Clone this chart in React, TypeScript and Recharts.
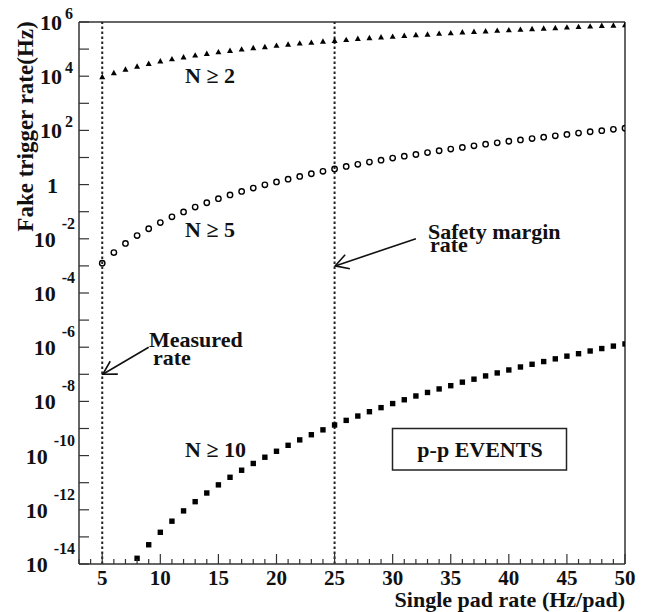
import React from 'react';
import { ScatterChart, Scatter, XAxis, YAxis, ReferenceLine } from 'recharts';

// pad rates (Hz/pad) for the N>=2 and N>=5 curves
const padRates = [
  5, 6, 7, 8, 9, 10, 11, 12, 13, 14, 15, 16, 17, 18, 19, 20, 21, 22, 23, 24, 25, 26, 27,
  28, 29, 30, 31, 32, 33, 34, 35, 36, 37, 38, 39, 40, 41, 42, 43, 44, 45, 46, 47, 48, 49, 50,
];
// log10 of the fake trigger rate (Hz)
const n2LogRate = [
  3.97, 4.12, 4.25, 4.36, 4.46, 4.55, 4.63, 4.7, 4.77, 4.83, 4.89, 4.94, 4.99, 5.04, 5.08,
  5.13, 5.17, 5.21, 5.24, 5.28, 5.31, 5.34, 5.38, 5.41, 5.44, 5.46, 5.49, 5.52, 5.54, 5.57,
  5.59, 5.62, 5.64, 5.66, 5.68, 5.7, 5.72, 5.74, 5.76, 5.78, 5.8, 5.82, 5.84, 5.86, 5.87, 5.89,
];
const n5LogRate = [
  -2.9, -2.51, -2.17, -1.88, -1.63, -1.4, -1.19, -1.01, -0.83, -0.67, -0.52, -0.38, -0.25,
  -0.13, -0.01, 0.1, 0.2, 0.3, 0.4, 0.49, 0.58, 0.67, 0.75, 0.83, 0.9, 0.98, 1.05, 1.11, 1.18,
  1.25, 1.31, 1.37, 1.43, 1.49, 1.54, 1.6, 1.65, 1.7, 1.75, 1.8, 1.85, 1.9, 1.95, 1.99, 2.04, 2.08,
];
// N>=10 only shows up from 8 Hz/pad
const n10PadRates = [
  8, 9, 10, 11, 12, 13, 14, 15, 16, 17, 18, 19, 20, 21, 22, 23, 24, 25, 26, 27, 28, 29, 30,
  31, 32, 33, 34, 35, 36, 37, 38, 39, 40, 41, 42, 43, 44, 45, 46, 47, 48, 49, 50,
];
const n10LogRate = [
  -13.79, -13.29, -12.83, -12.42, -12.04, -11.7, -11.38, -11.08, -10.8, -10.54, -10.29, -10.06,
  -9.84, -9.62, -9.42, -9.23, -9.05, -8.87, -8.7, -8.54, -8.38, -8.23, -8.08, -7.94, -7.8,
  -7.67, -7.54, -7.42, -7.29, -7.18, -7.06, -6.95, -6.84, -6.73, -6.63, -6.53, -6.43, -6.33,
  -6.24, -6.14, -6.05, -5.96, -5.88,
];

const xTicks = [
  3, 4, 5, 6, 7, 8, 9, 10, 11, 12, 13, 14, 15, 16, 17, 18, 19, 20, 21, 22, 23, 24, 25, 26,
  27, 28, 29, 30, 31, 32, 33, 34, 35, 36, 37, 38, 39, 40, 41, 42, 43, 44, 45, 46, 47, 48, 49, 50,
];
const yTicks = [-14, -13, -12, -11, -10, -9, -8, -7, -6, -5, -4, -3, -2, -1, 0, 1, 2, 3, 4, 5, 6];

const measuredRate = 5;
const safetyRate = 25;

const W = 660;
const H = 612;
const PLOT_LEFT = 79;
const PLOT_BOTTOM = 564;
const FONT = '"Liberation Serif", "Times New Roman", serif';
const INK = '#111';
const AXIS = '#333';

const n2Data = padRates.map((x, i) => ({ x, y: n2LogRate[i] }));
const n5Data = padRates.map((x, i) => ({ x, y: n5LogRate[i] }));
const n10Data = n10PadRates.map((x, i) => ({ x, y: n10LogRate[i] }));

const Triangle = ({ cx, cy }: any) => (
  <polygon points={`${cx},${cy - 3.2} ${cx - 3},${cy + 2.2} ${cx + 3},${cy + 2.2}`} fill="#000" />
);
const OpenCircle = ({ cx, cy }: any) => (
  <circle cx={cx} cy={cy} r={2.7} fill="none" stroke="#000" strokeWidth={1.4} />
);
const Square = ({ cx, cy }: any) => <rect x={cx - 2.7} y={cy - 2.7} width={5.4} height={5.4} fill="#000" />;

const XTick = ({ x, payload }: any) => {
  const v = payload.value;
  const major = v % 5 === 0;
  return (
    <g>
      <line x1={x} x2={x} y1={PLOT_BOTTOM} y2={PLOT_BOTTOM - (major ? 10 : 5)} stroke={AXIS} strokeWidth={1.2} />
      {major && (
        <text x={x} y={585} textAnchor="middle" fontFamily={FONT} fontWeight="bold" fontSize={21} fill={INK}>
          {v}
        </text>
      )}
    </g>
  );
};

const YTick = ({ y, payload }: any) => {
  const e = payload.value;
  let label = null;
  if (e === 0) {
    label = (
      <text x={58} y={y + 8} textAnchor="end" fontFamily={FONT} fontWeight="bold" fontSize={22} fill={INK}>
        1
      </text>
    );
  } else if (e % 2 === 0) {
    const neg = e < 0;
    label = (
      <text x={neg ? 75 : 73} y={y + 8} textAnchor="end" fontFamily={FONT} fontWeight="bold" fontSize={22} fill={INK}>
        10
        <tspan dx={neg ? 6 : 3} dy={neg ? -18 : -11} fontSize={16}>
          {e}
        </tspan>
      </text>
    );
  }
  return (
    <g>
      <line x1={PLOT_LEFT} x2={PLOT_LEFT + 10} y1={y} y2={y} stroke={AXIS} strokeWidth={1.2} />
      {label}
    </g>
  );
};

const Arrow = (props: any) => {
  const { x1, y1, x2, y2 } = props;
  const a = Math.atan2(y1 - y2, x1 - x2);
  const len = 15;
  const h1 = [x2 + len * Math.cos(a - 0.52), y2 + len * Math.sin(a - 0.52)];
  const h2 = [x2 + len * Math.cos(a + 0.52), y2 + len * Math.sin(a + 0.52)];
  return (
    <g stroke="#111" strokeWidth={1.6} fill="none">
      <line x1={x1} y1={y1} x2={x2} y2={y2} />
      <polyline points={`${h1[0]},${h1[1]} ${x2},${y2} ${h2[0]},${h2[1]}`} />
    </g>
  );
};

const txt = { fontFamily: FONT, fontWeight: 'bold' as const, fontSize: 22, fill: INK };

export default function App() {
  return (
    <div style={{ position: 'absolute', left: 0, top: 0, width: W, height: H, background: '#fff' }}>
      <ScatterChart width={W} height={H} margin={{ top: 22, right: 35, bottom: 8, left: 9 }}>
        <XAxis
          type="number"
          dataKey="x"
          domain={[3, 50]}
          allowDataOverflow
          ticks={xTicks}
          interval={0}
          height={40}
          tickLine={false}
          tickSize={0}
          axisLine={{ stroke: AXIS, strokeWidth: 1.5 }}
          tick={<XTick />}
        />
        <YAxis
          type="number"
          dataKey="y"
          domain={[-14, 6]}
          allowDataOverflow
          ticks={yTicks}
          interval={0}
          width={70}
          tickLine={false}
          tickSize={0}
          axisLine={{ stroke: AXIS, strokeWidth: 1.5 }}
          tick={<YTick />}
        />
        <ReferenceLine y={6} stroke={AXIS} strokeWidth={1.5} />
        <ReferenceLine x={50} stroke={AXIS} strokeWidth={1.5} />
        <ReferenceLine x={measuredRate} stroke="#222" strokeWidth={2} strokeDasharray="2.5 2.5" />
        <ReferenceLine x={safetyRate} stroke="#222" strokeWidth={2} strokeDasharray="2.5 2.5" />
        <ReferenceLine segment={[{ x: 9, y: -6 }, { x: 5.05, y: -7 }]} shape={Arrow} />
        <ReferenceLine segment={[{ x: 32, y: -2 }, { x: 25.05, y: -3 }]} shape={Arrow} />
        <Scatter data={n2Data} shape={Triangle} isAnimationActive={false} />
        <Scatter data={n5Data} shape={OpenCircle} isAnimationActive={false} />
        <Scatter data={n10Data} shape={Square} isAnimationActive={false} />
      </ScatterChart>
      <svg width={W} height={H} style={{ position: 'absolute', left: 0, top: 0, pointerEvents: 'none' }}>
        <text x={185} y={83} {...txt}>N ≥ 2</text>
        <text x={185} y={237} {...txt}>N ≥ 5</text>
        <text x={185} y={457} {...txt}>N ≥ 10</text>
        <text x={149} y={347} {...txt}>Measured</text>
        <text x={153} y={365} {...txt}>rate</text>
        <text x={428} y={239} {...txt}>Safety margin</text>
        <text x={430} y={252} {...txt}>rate</text>
        <rect x={392.5} y={428.5} width={174} height={41.5} fill="#fff" stroke="#222" strokeWidth={1.5} />
        <text x={480} y={457} textAnchor="middle" {...txt}>p-p EVENTS</text>
        <text x={625} y={607} textAnchor="end" {...txt}>Single pad rate (Hz/pad)</text>
        <text x={33} y={126.5} transform="rotate(-90 33 126.5)" textAnchor="middle" {...txt} fontSize={23}>
          Fake trigger rate(Hz)
        </text>
      </svg>
    </div>
  );
}
